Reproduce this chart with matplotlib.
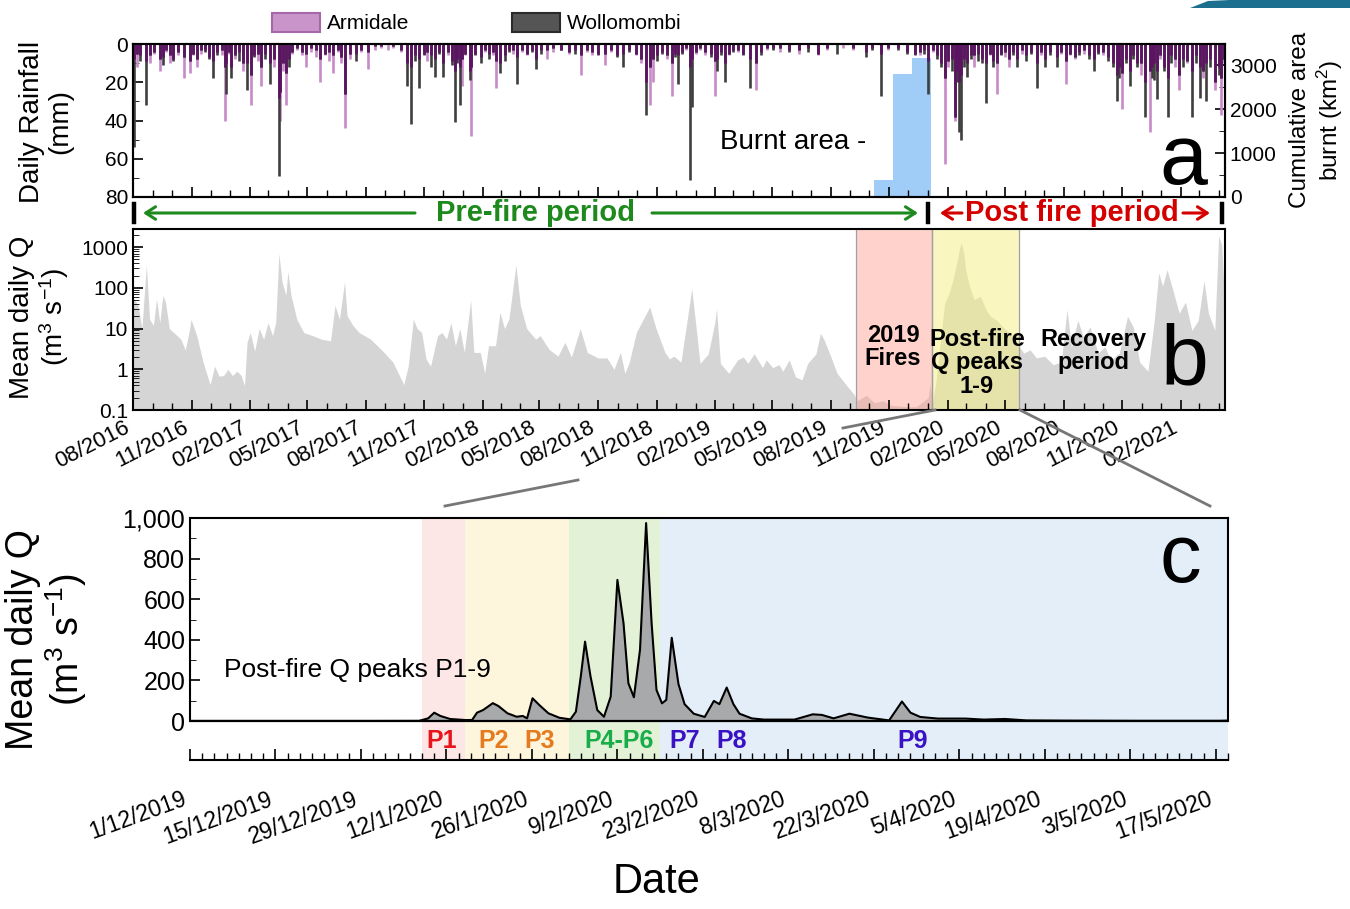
import numpy as np
import pandas as pd
import matplotlib

matplotlib.use("Agg")
import matplotlib.pyplot as plt
import matplotlib.dates as mdates
from matplotlib.lines import Line2D
from matplotlib.patches import Patch, Polygon
from matplotlib.ticker import FixedLocator, NullFormatter, LogLocator

plt.rcParams["font.family"] = ["Liberation Sans", "DejaVu Sans"]
plt.rcParams["mathtext.fontset"] = "custom"
plt.rcParams["mathtext.rm"] = "Liberation Sans"
plt.rcParams["mathtext.it"] = "Liberation Sans:italic"

# ---------------------------------------------------------------- data
# panels a/b: day number counted from 1 Aug 2016
START_AB = "2016-08-01"
DAYS_AB = 1714

# daily rainfall (mm) at the two gauges, only the rain days
rain_day = [2, 6, 11, 20, 27, 33, 42, 47, 52, 58,
            63, 70, 80, 89, 94, 100, 107, 113, 120, 126,
            132, 139, 144, 146, 150, 154, 160, 166, 172, 179,
            185, 190, 196, 201, 207, 215, 222, 229, 231, 236,
            240, 245, 250, 258, 265, 272, 280, 287, 294, 301,
            308, 314, 321, 327, 333, 340, 350, 358, 369, 380,
            390, 400, 408, 420, 430, 436, 442, 449, 456, 462,
            468, 474, 480, 487, 494, 500, 505, 509, 513, 516,
            521, 529, 531, 537, 546, 552, 559, 565, 570, 576,
            584, 590, 597, 603, 610, 618, 626, 633, 640, 650,
            660, 672, 685, 693, 703, 712, 720, 730, 741, 750,
            760, 769, 778, 790, 798, 805, 811, 816, 822, 830,
            838, 846, 850, 855, 862, 868, 874, 877, 884, 890,
            898, 907, 914, 917, 923, 929, 935, 942, 950, 958,
            968, 978, 985, 995, 1005, 1015, 1030, 1045, 1060, 1075,
            1090, 1105, 1115, 1130, 1150, 1160, 1174, 1185, 1200, 1215,
            1228, 1236, 1242, 1248, 1255, 1262, 1268, 1275, 1280, 1285,
            1290, 1294, 1297, 1300, 1304, 1309, 1315, 1320, 1327, 1333,
            1339, 1345, 1350, 1356, 1362, 1368, 1375, 1382, 1388, 1395,
            1402, 1410, 1419, 1425, 1432, 1440, 1450, 1457, 1464, 1470,
            1478, 1485, 1492, 1500, 1508, 1515, 1522, 1530, 1538, 1544,
            1548, 1552, 1558, 1565, 1570, 1576, 1582, 1588, 1596, 1600,
            1603, 1607, 1612, 1618, 1624, 1630, 1636, 1642, 1648, 1655,
            1662, 1668, 1675, 1680, 1684, 1690, 1698, 1704, 1708, 1712]
arm_mm = [8, 12, 6, 9, 10, 5, 14, 7, 4, 10,
          8, 6, 18, 15, 6, 12, 5, 3, 7, 9,
          4, 6, 40, 10, 5, 12, 8, 4, 14, 10,
          32, 6, 9, 22, 5, 10, 12, 28, 40, 14,
          32, 8, 5, 3, 6, 12, 4, 7, 20, 6,
          9, 15, 4, 10, 44, 8, 5, 4, 13, 3,
          2, 3, 2, 4, 10, 12, 6, 8, 5, 9,
          6, 8, 4, 10, 6, 9, 14, 8, 12, 22,
          6, 14, 48, 5, 7, 4, 5, 6, 23, 10,
          6, 3, 5, 7, 4, 6, 3, 8, 3, 8,
          4, 3, 5, 3, 16, 4, 6, 5, 11, 4,
          6, 5, 3, 6, 10, 20, 32, 20, 6, 4,
          8, 27, 5, 6, 4, 3, 12, 8, 5, 3,
          6, 5, 27, 8, 4, 10, 6, 3, 4, 5,
          8, 24, 4, 3, 2, 4, 3, 5, 2, 6,
          3, 0, 2, 3, 4, 2, 5, 3, 2, 4,
          5, 6, 3, 9, 4, 6, 10, 63, 12, 8,
          40, 14, 20, 16, 8, 10, 6, 12, 5, 8,
          10, 6, 9, 26, 5, 7, 12, 4, 8, 5,
          6, 4, 10, 6, 8, 4, 7, 5, 21, 6,
          8, 4, 5, 6, 8, 4, 6, 7, 10, 16,
          12, 34, 8, 14, 6, 10, 16, 20, 46, 12,
          10, 14, 8, 12, 18, 6, 12, 24, 8, 10,
          14, 6, 12, 18, 10, 8, 24, 12, 37, 10]
wol_mm = [54, 5, 9, 32, 6, 4, 8, 11, 3, 6,
          9, 4, 7, 9, 5, 8, 3, 4, 8, 18,
          6, 3, 12, 26, 4, 18, 6, 9, 10, 24,
          16, 7, 5, 12, 8, 21, 8, 69, 25, 10,
          15, 12, 4, 2, 4, 5, 2, 3, 8, 5,
          4, 6, 3, 7, 26, 5, 9, 3, 4, 1,
          1, 0, 1, 3, 22, 42, 9, 23, 6, 4,
          12, 17, 5, 17, 4, 11, 41, 10, 32, 8,
          5, 19, 12, 6, 10, 3, 8, 4, 9, 15,
          9, 4, 3, 21, 3, 5, 4, 13, 5, 3,
          2, 3, 4, 5, 6, 3, 4, 6, 5, 3,
          7, 12, 4, 5, 8, 37, 12, 8, 9, 5,
          6, 10, 7, 21, 5, 2, 71, 33, 4, 2,
          4, 7, 9, 14, 6, 20, 5, 4, 3, 6,
          23, 10, 6, 2, 3, 2, 4, 3, 4, 5,
          2, 5, 0, 2, 7, 3, 27, 2, 3, 5,
          6, 4, 5, 26, 3, 8, 12, 18, 9, 14,
          38, 20, 46, 50, 12, 17, 8, 6, 9, 10,
          31, 5, 12, 10, 6, 4, 8, 6, 12, 3,
          9, 5, 23, 4, 12, 6, 12, 4, 9, 5,
          7, 6, 3, 8, 14, 5, 4, 9, 12, 30,
          18, 15, 10, 22, 8, 12, 10, 38, 14, 18,
          19, 29, 6, 14, 38, 10, 8, 16, 12, 9,
          38, 10, 28, 14, 30, 12, 20, 16, 18, 8]

# cumulative burnt area (km2), monthly steps
burn_start = ["2019-09-09", "2019-10-08", "2019-11-07", "2019-12-07"]
burn_km2 = [30, 390, 2800, 3160]

# mean daily discharge (m3/s), panel b
q_day = [0, 8, 14, 21, 26, 32, 37, 42, 47, 51,
         57, 68, 75, 82, 89, 91, 100, 110, 121, 128,
         135, 142, 149, 156, 163, 170, 175, 179, 184, 191,
         198, 205, 212, 219, 224, 229, 234, 240, 243, 248,
         257, 268, 282, 296, 310, 317, 324, 332, 336, 345,
         355, 373, 394, 408, 425, 432, 440, 446, 453, 460,
         467, 478, 485, 492, 499, 506, 513, 520, 530, 535,
         545, 552, 558, 569, 576, 583, 590, 601, 608, 618,
         632, 639, 653, 667, 678, 688, 702, 713, 730, 744,
         755, 765, 772, 779, 790, 811, 821, 835, 842, 849,
         860, 870, 877, 884, 890, 903, 913, 916, 922, 935,
         949, 958, 965, 975, 988, 994, 1004, 1014, 1020, 1030,
         1040, 1050, 1059, 1072, 1079, 1085, 1095, 1105, 1118, 1131,
         1137, 1151, 1164, 1177, 1190, 1216, 1229, 1248, 1251, 1255,
         1261, 1268, 1274, 1281, 1287, 1294, 1297, 1300, 1304, 1307,
         1313, 1320, 1330, 1339, 1346, 1356, 1365, 1378, 1391, 1398,
         1408, 1418, 1431, 1444, 1457, 1466, 1473, 1483, 1492, 1502,
         1515, 1525, 1535, 1548, 1561, 1570, 1580, 1593, 1603, 1610,
         1616, 1623, 1632, 1642, 1652, 1662, 1672, 1681, 1688, 1698,
         1704, 1709, 1712, 1714]
q_cms = [60, 37, 10, 365, 17, 12, 54, 14, 66, 45,
         10, 7, 5.5, 3, 10, 17, 6.7, 1.5, 0.42, 1.2,
         0.68, 0.7, 1.0, 0.7, 0.9, 0.7, 0.39, 4.6, 8, 2.8,
         10, 5.5, 14, 6.7, 14, 700, 140, 66, 250, 66,
         17, 8, 6.7, 5.5, 5, 37, 17, 140, 21, 12,
         8, 5.5, 2.6, 1.5, 0.42, 1.2, 17, 10, 8, 1.8,
         1.2, 6.7, 8, 5.5, 14, 3.8, 10, 2.6, 50, 2.6,
         2.6, 0.8, 3.8, 3.8, 25, 10, 17, 365, 37, 10,
         5.5, 6.7, 3.1, 2.1, 4.6, 2, 10, 2.6, 1.9, 1.9,
         1, 2.6, 0.8, 1.5, 8, 34, 10, 2.6, 1.8, 2.1,
         1.5, 17, 96, 10, 1.4, 2.4, 13.6, 30, 1.4, 0.8,
         1.7, 2, 1.4, 2.4, 1.1, 1.7, 1.1, 1.3, 0.9, 1.7,
         0.65, 0.55, 1.4, 2.4, 7.7, 5.2, 2.1, 0.8, 0.44, 0.25,
         0.17, 0.23, 0.15, 0.17, 0.13, 0.12, 0.12, 0.2, 0.44, 0.15,
         0.6, 6.3, 42, 75, 160, 500, 900, 1300, 730, 280,
         110, 52, 62, 29, 20, 16, 11, 7.6, 3.6, 2.5,
         3, 1.9, 2.1, 1.3, 1.5, 29, 3.6, 16, 6, 11,
         2.5, 3.6, 1.7, 2.5, 20, 11, 1.5, 0.9, 16, 236,
         110, 280, 90, 24, 45, 9, 16, 150, 24, 9,
         1900, 1100, 110, 9]

# period bands in panel b
fire_band = ("2019-09-10", "2020-01-07")
peak_band = ("2020-01-07", "2020-05-22")

# panel c: day number counted from 1 Dec 2019
START_C = "2019-12-01"
DAYS_C = 170
c_day = [0, 30, 37.5, 39, 40, 41, 42.6, 45, 46.2, 47,
         48, 49.6, 50.5, 52, 53.5, 54.5, 55.2, 56.1, 57.2, 58.7,
         60.5, 62.3, 63.2, 64, 64.7, 65.6, 66.7, 67.8, 68.9, 70,
         71, 71.8, 72.7, 73.7, 74.7, 75.6, 76.4, 77.3, 78, 78.9,
         80, 81, 82.5, 84.3, 85.8, 86.7, 87.9, 89, 90, 92,
         94, 99, 102, 103.5, 105.4, 108, 111, 114.5, 116.6, 118,
         119.6, 122.5, 127, 130, 133.5, 137, 143, 155, 168.5, 170]
c_cms = [0.5, 0.5, 0.8, 13, 41, 25, 10, 5, 5, 41,
         54, 88, 74, 38, 21, 25, 13, 112, 79, 38,
         16, 8, 46, 219, 391, 219, 54, 21, 120, 695,
         482, 186, 117, 350, 975, 482, 153, 87, 104, 410,
         182, 83, 36, 20, 99, 83, 165, 83, 36, 13,
         7, 7, 33, 30, 13, 36, 17, 3, 96, 41,
         20, 12, 12, 7, 10, 3, 2, 1, 1, 2]

# peak groups shaded in panel c
group_start = ["2020-01-08", "2020-01-15", "2020-02-01", "2020-02-16"]
group_end = ["2020-01-15", "2020-02-01", "2020-02-16", "2020-05-19"]
group_color = ["#fde6e6", "#fdf5dc", "#e3f1d6", "#e3eef8"]

peak_label = ["P1", "P2", "P3", "P4-P6", "P7", "P8", "P9"]
peak_day = [41.2, 49.7, 57.2, 70.3, 81, 88.7, 118.3]
peak_color = ["#e8141c", "#e57a1e", "#e57a1e", "#19ad4a",
              "#3a12c4", "#3a12c4", "#3a12c4"]

# ---------------------------------------------------------------- layout
W, H = 1350, 909
GREEN = "#1e8a1e"
RED = "#d40000"


def F(x, y):
    return (x / W, 1 - y / H)


def box(l, t, r, b):
    return [l / W, 1 - b / H, (r - l) / W, (b - t) / H]


fig = plt.figure(figsize=(W / 100, H / 100), dpi=100)

t0 = mdates.date2num(pd.Timestamp(START_AB))
c0 = mdates.date2num(pd.Timestamp(START_C))


def month_ticks(ax):
    ax.xaxis.set_major_locator(mdates.MonthLocator(bymonth=[2, 5, 8, 11]))
    ax.xaxis.set_minor_locator(mdates.MonthLocator())
    ax.tick_params(axis="x", which="major", direction="in", length=7, width=1.2)
    ax.tick_params(axis="x", which="minor", direction="in", length=5, width=1.0)


# ---------------------------------------------------------------- panel a
ax_a = fig.add_axes(box(133, 44, 1225, 197))
ax_r = ax_a.twinx()
ax_a.set_zorder(ax_r.get_zorder() + 1)
ax_a.patch.set_visible(False)

ax_r.bar(mdates.date2num(np.array(burn_start, dtype="datetime64[D]")), burn_km2,
         width=30, align="edge", color="#9fcdf7", lw=0)
ax_r.set_ylim(0, 3480)
ax_r.set_yticks([0, 1000, 2000, 3000])
ax_r.yaxis.set_minor_locator(FixedLocator([500, 1500, 2500]))
ax_r.tick_params(axis="y", which="both", direction="in", labelsize=15)
ax_r.tick_params(axis="y", which="major", length=7, width=1.2)
ax_r.tick_params(axis="y", which="minor", length=4)

rx = t0 + np.array(rain_day, float)
arm = np.array(arm_mm, float)
wol = np.array(wol_mm, float)
both = np.minimum(arm, wol)
for vals, col in ((arm, "#c88ac9"), (wol, "#3f3f3f"), (both, "#5c1462")):
    m = vals > 0
    ax_a.vlines(rx[m], 0, vals[m], color=col, lw=1.9)

ax_a.set_xlim(t0, t0 + DAYS_AB)
ax_a.set_ylim(80, 0)
ax_a.set_yticks([0, 20, 40, 60, 80])
ax_a.yaxis.set_minor_locator(FixedLocator([10, 30, 50, 70]))
ax_a.tick_params(axis="y", which="both", direction="in", labelsize=15)
ax_a.tick_params(axis="y", which="major", length=7, width=1.2)
ax_a.tick_params(axis="y", which="minor", length=4)
month_ticks(ax_a)
ax_a.tick_params(axis="x", labelbottom=False)
for ax in (ax_a, ax_r):
    for s in ax.spines.values():
        s.set_linewidth(1.5)

fig.text(*F(46, 122), "Daily Rainfall\n(mm)", rotation=90, ha="center",
         va="center", fontsize=20, linespacing=1.1)
fig.text(*F(1317, 120), "Cumulative area\nburnt (km$^2$)", rotation=90,
         ha="center", va="center", fontsize=17.5, linespacing=1.15)
fig.text(*F(720, 142), "Burnt area -", ha="left", va="center", fontsize=20)
fig.text(*F(1183, 162), "a", ha="center", va="center", fontsize=62)

fig.legend(handles=[Patch(facecolor="#c994c9", edgecolor="#a667a8", lw=1.5,
                          label="Armidale"),
                    Patch(facecolor="#555555", edgecolor="#2a2a2a", lw=1.5,
                          label="Wollomombi")],
           loc="center left", bbox_to_anchor=F(272, 23), ncol=2,
           frameon=False, fontsize=15, handlelength=2.3, handleheight=1.05,
           handletextpad=0.35, columnspacing=4.9, borderpad=0, borderaxespad=0)

# period arrows between a and b
for x in (134, 928, 1222):
    fig.add_artist(Line2D([x / W, x / W], [1 - 204 / H, 1 - 222 / H],
                          transform=fig.transFigure, color="black", lw=3.2))


def arrow(x0, x1, col):
    ax_a.annotate("", xy=(x1, H - 213), xycoords="figure pixels",
                  xytext=(x0, H - 213), textcoords="figure pixels",
                  arrowprops=dict(arrowstyle="->,head_length=0.7,head_width=0.45",
                                  color=col, lw=2.2, shrinkA=0, shrinkB=0),
                  annotation_clip=False)


arrow(415, 143, GREEN)
arrow(652, 918, GREEN)
arrow(962, 940, RED)
arrow(1183, 1210, RED)
fig.text(*F(535, 213), "Pre-fire period", ha="center", va="center",
         fontsize=21, fontweight="bold", color=GREEN)
fig.text(*F(1072, 213), "Post fire period", ha="center", va="center",
         fontsize=21, fontweight="bold", color=RED)

# ---------------------------------------------------------------- panel b
ax_b = fig.add_axes(box(133, 229, 1225, 410))
qx = t0 + np.array(q_day, float)
ax_b.fill_between(qx, 0.1, q_cms, color="#d5d5d5", lw=0)
for (a, b), col, al in ((fire_band, "#ff9f8f", 0.45), (peak_band, "#f5f080", 0.5)):
    ax_b.axvspan(mdates.date2num(pd.Timestamp(a)), mdates.date2num(pd.Timestamp(b)),
                 facecolor=col, alpha=al, edgecolor="none")
    for d in (a, b):
        ax_b.axvline(mdates.date2num(pd.Timestamp(d)), color="#a0a0a0", lw=0.9)
ax_b.set_yscale("log")
ax_b.set_ylim(0.1, 2800)
ax_b.set_xlim(t0, t0 + DAYS_AB)
ax_b.set_yticks([0.1, 1, 10, 100, 1000])
ax_b.set_yticklabels(["0.1", "1", "10", "100", "1000"])
ax_b.yaxis.set_minor_locator(LogLocator(base=10, subs=np.arange(2, 10)))
ax_b.yaxis.set_minor_formatter(NullFormatter())
ax_b.tick_params(axis="y", which="both", direction="in", labelsize=15)
ax_b.tick_params(axis="y", which="major", length=7, width=1.2)
ax_b.tick_params(axis="y", which="minor", length=4)
month_ticks(ax_b)
ax_b.xaxis.set_major_formatter(mdates.DateFormatter("%m/%Y"))
ax_b.tick_params(axis="x", labelsize=16, pad=5)
for lab in ax_b.get_xticklabels():
    lab.set_rotation(27)
    lab.set_ha("right")
for s in ax_b.spines.values():
    s.set_linewidth(1.5)

fig.text(*F(40, 317), "Mean daily Q\n(m$^3$ s$^{-1}$)", rotation=90,
         ha="center", va="center", fontsize=20, linespacing=1.1)
bold = dict(ha="center", va="center", fontsize=17, fontweight="bold",
            linespacing=1.05)
fig.text(*F(893, 347), "2019\nFires", **bold)
fig.text(*F(977, 363), "Post-fire\nQ peaks\n1-9", **bold)
fig.text(*F(1093, 351), "Recovery\nperiod", **bold)
fig.text(*F(1184, 362), "b", ha="center", va="center", fontsize=62)

# ---------------------------------------------------------------- panel c
ax_c = fig.add_axes(box(190, 518, 1228, 760))
for a, b, col in zip(group_start, group_end, group_color):
    ax_c.axvspan(mdates.date2num(pd.Timestamp(a)), mdates.date2num(pd.Timestamp(b)),
                 facecolor=col, edgecolor="none", zorder=0)
cx = c0 + np.array(c_day, float)
ax_c.fill_between(cx, 0, c_cms, color="#a8a9ab", lw=0, zorder=2)
ax_c.plot(cx, c_cms, color="black", lw=1.5, zorder=3)
ax_c.axhline(0, color="black", lw=1.6, zorder=4)
ax_c.set_xlim(c0, c0 + DAYS_C)
ax_c.set_ylim(-192, 1000)
ax_c.spines["left"].set_bounds(0, 1000)
ax_c.spines["right"].set_bounds(0, 1000)
for s in ax_c.spines.values():
    s.set_linewidth(1.5)
ax_c.set_yticks([0, 200, 400, 600, 800, 1000])
ax_c.set_yticklabels(["0", "200", "400", "600", "800", "1,000"])
ax_c.yaxis.set_minor_locator(FixedLocator([100, 300, 500, 700, 900]))
ax_c.tick_params(axis="y", which="both", direction="in", labelsize=18)
ax_c.tick_params(axis="y", which="major", length=7, width=1.2)
ax_c.tick_params(axis="y", which="minor", length=4)

major_c = pd.date_range(START_C, "2020-05-17", freq="14D")
minor_c = pd.date_range(START_C, "2020-05-19", freq="2D")
ax_c.set_xticks(mdates.date2num(major_c.to_pydatetime()))
ax_c.set_xticklabels([f"{d.day}/{d.month}/{d.year}" for d in major_c],
                     rotation=20, ha="right")
ax_c.xaxis.set_minor_locator(FixedLocator(mdates.date2num(minor_c.to_pydatetime())))
ax_c.tick_params(axis="x", which="major", direction="in", length=8, width=1.2,
                 labelsize=16.5, pad=20)
ax_c.tick_params(axis="x", which="minor", direction="in", length=5, width=1.0)

for lab, d, col in zip(peak_label, peak_day, peak_color):
    ax_c.text(c0 + d, -98, lab, ha="center", va="center", fontsize=18,
              fontweight="bold", color=col, zorder=5)
ax_c.text(c0 + 5.6, 250, "Post-fire Q peaks P1-9", ha="left", va="center",
          fontsize=19)
fig.text(*F(1180, 560), "c", ha="center", va="center", fontsize=60)
fig.text(*F(47, 640), "Mean daily Q\n(m$^3$ s$^{-1}$)", rotation=90,
         ha="center", va="center", fontsize=27, linespacing=1.05)
fig.text(*F(657, 882), "Date", ha="center", va="center", fontsize=30)

# zoom lines from b to c
for (x0, y0), (x1, y1) in (((935, 410), (843, 428)), ((578, 480), (445, 506)),
                           ((1020, 410), (1210, 506))):
    fig.add_artist(Line2D([x0 / W, x1 / W], [1 - y0 / H, 1 - y1 / H],
                          transform=fig.transFigure, color="#777777", lw=2))

# corner swoosh of the source page
fig.add_artist(Polygon([F(1190, 8), F(1208, 1), F(1230, 0), F(1350, 0), F(1350, 8)],
                       closed=True, transform=fig.transFigure,
                       facecolor="#1c6f8f", edgecolor="none"))

fig.savefig("out.png", dpi=100)
